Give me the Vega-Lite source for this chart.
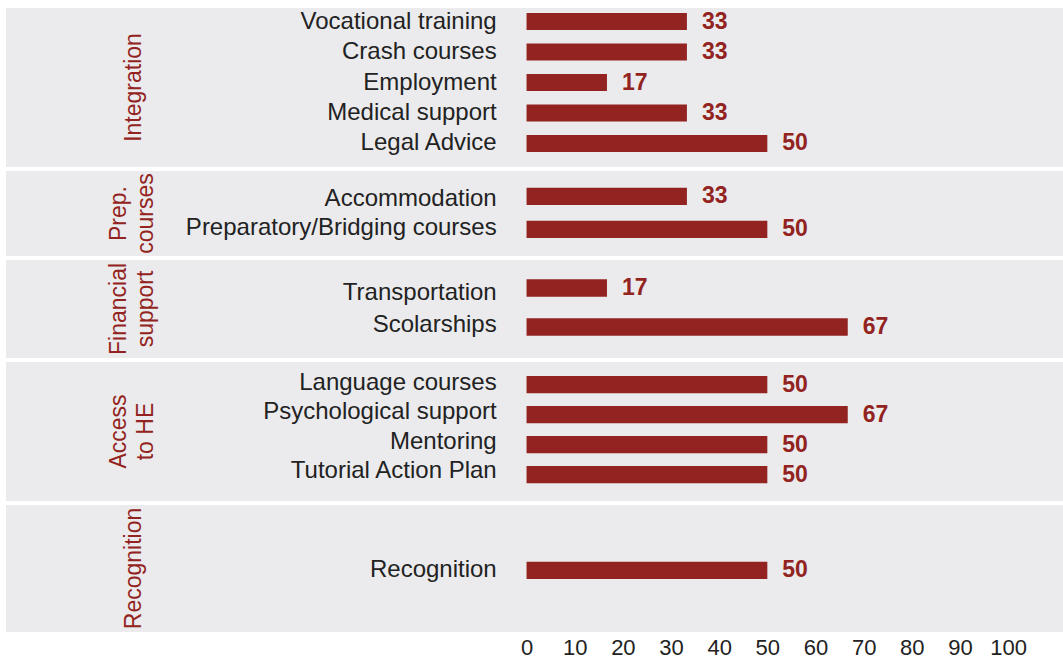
{
  "$schema": "https://vega.github.io/schema/vega-lite/v6.json",
  "padding": {"top": 8, "left": 6, "right": 0, "bottom": 0},
  "background": "white",
  "datasets": {
    "rows": [
      {"group": "Integration", "item": "Vocational training", "value": 33.3},
      {"group": "Integration", "item": "Crash courses", "value": 33.3},
      {"group": "Integration", "item": "Employment", "value": 16.7},
      {"group": "Integration", "item": "Medical support", "value": 33.3},
      {"group": "Integration", "item": "Legal Advice", "value": 50},
      {"group": "Prep. courses", "item": "Accommodation", "value": 33.3},
      {"group": "Prep. courses", "item": "Preparatory/Bridging courses", "value": 50},
      {"group": "Financial support", "item": "Transportation", "value": 16.7},
      {"group": "Financial support", "item": "Scolarships", "value": 66.7},
      {"group": "Access to HE", "item": "Language courses", "value": 50},
      {"group": "Access to HE", "item": "Psychological support", "value": 66.7},
      {"group": "Access to HE", "item": "Mentoring", "value": 50},
      {"group": "Access to HE", "item": "Tutorial Action Plan", "value": 50},
      {"group": "Recognition", "item": "Recognition", "value": 50}
    ],
    "groups": [
      {"group": "Integration", "label": "Integration"},
      {"group": "Prep. courses", "label": "Prep.\ncourses"},
      {"group": "Financial support", "label": "Financial\nsupport"},
      {"group": "Access to HE", "label": "Access\nto HE"},
      {"group": "Recognition", "label": "Recognition"}
    ]
  },
  "spacing": 4,
  "resolve": {"scale": {"x": "independent", "y": "independent"}},
  "vconcat": [
    {
      "width": 1057, "height": 159,
      "layer": [
        {"data": {"name": "rows"}, "transform": [{"filter": "datum.group === 'Integration'"}],
         "mark": {"type": "bar", "color": "#922320"},
         "encoding": {
           "y": {"field": "item", "type": "nominal", "sort": null, "axis": null, "scale": {"type": "band", "paddingInner": 0.44, "paddingOuter": 0.328, "align": 0.25}},
           "x": {"field": "value", "type": "quantitative", "axis": null, "scale": {"domain": [-108.1, 111.4], "nice": false, "zero": false}}}},
        {"data": {"name": "rows"}, "transform": [{"filter": "datum.group === 'Integration'"}],
         "mark": {"type": "text", "align": "left", "baseline": "middle", "dx": 15, "fontSize": 23, "fontWeight": "bold", "color": "#922320"},
         "encoding": {
           "y": {"field": "item", "type": "nominal", "sort": null, "axis": null},
           "x": {"field": "value", "type": "quantitative", "axis": null},
           "text": {"field": "value", "type": "quantitative", "format": ".0f"}}},
        {"data": {"name": "rows"}, "transform": [{"filter": "datum.group === 'Integration'"}],
         "mark": {"type": "text", "align": "right", "baseline": "middle", "fontSize": 24, "color": "#222222"},
         "encoding": {
           "y": {"field": "item", "type": "nominal", "sort": null, "axis": null},
           "x": {"datum": -6.2, "type": "quantitative", "axis": null},
           "text": {"field": "item", "type": "nominal"}}},
        {"data": {"name": "groups"}, "transform": [{"filter": "datum.group === 'Integration'"}],
         "mark": {"type": "text", "angle": 270, "align": "center", "baseline": "middle", "fontSize": 23, "color": "#922320", "lineBreak": "\n", "lineHeight": 27},
         "encoding": {
           "x": {"datum": -81.6, "type": "quantitative", "axis": null},
           "text": {"field": "label", "type": "nominal"}}}
      ]
    },
    {
      "width": 1057, "height": 85,
      "resolve": {"scale": {"y": "independent"}},
      "layer": [
        {"data": {"name": "rows"}, "transform": [{"filter": "datum.group === 'Prep. courses'"}],
         "mark": {"type": "bar", "color": "#922320"},
         "encoding": {
           "y": {"field": "item", "type": "nominal", "sort": null, "axis": null, "scale": {"type": "band", "paddingInner": 0.476, "paddingOuter": 0.526, "align": 0.48}},
           "x": {"field": "value", "type": "quantitative", "axis": null, "scale": {"domain": [-108.1, 111.4], "nice": false, "zero": false}}}},
        {"data": {"name": "rows"}, "transform": [{"filter": "datum.group === 'Prep. courses'"}],
         "mark": {"type": "text", "align": "left", "baseline": "middle", "dx": 15, "fontSize": 23, "fontWeight": "bold", "color": "#922320"},
         "encoding": {
           "y": {"field": "item", "type": "nominal", "sort": null, "axis": null, "scale": {"type": "band", "paddingInner": 0.476, "paddingOuter": 0.526, "align": 0.48}},
           "x": {"field": "value", "type": "quantitative", "axis": null},
           "text": {"field": "value", "type": "quantitative", "format": ".0f"}}},
        {"data": {"name": "rows"}, "transform": [{"filter": "datum.group === 'Prep. courses'"}],
         "mark": {"type": "text", "align": "right", "baseline": "middle", "fontSize": 24, "color": "#222222"},
         "encoding": {
           "y": {"field": "item", "type": "nominal", "sort": null, "axis": null, "scale": {"type": "point", "padding": 0.966, "align": 0.5}},
           "x": {"datum": -6.2, "type": "quantitative", "axis": null},
           "text": {"field": "item", "type": "nominal"}}},
        {"data": {"name": "groups"}, "transform": [{"filter": "datum.group === 'Prep. courses'"}],
         "mark": {"type": "text", "angle": 270, "align": "center", "baseline": "middle", "fontSize": 23, "color": "#922320", "lineBreak": "\n", "lineHeight": 27},
         "encoding": {
           "x": {"datum": -84.7, "type": "quantitative", "axis": null},
           "text": {"field": "label", "type": "nominal"}}}
      ]
    },
    {
      "width": 1057, "height": 98,
      "resolve": {"scale": {"y": "independent"}},
      "layer": [
        {"data": {"name": "rows"}, "transform": [{"filter": "datum.group === 'Financial support'"}],
         "mark": {"type": "bar", "color": "#922320"},
         "encoding": {
           "y": {"field": "item", "type": "nominal", "sort": null, "axis": null, "scale": {"type": "band", "paddingInner": 0.551, "paddingOuter": 0.532, "align": 0.465}},
           "x": {"field": "value", "type": "quantitative", "axis": null, "scale": {"domain": [-108.1, 111.4], "nice": false, "zero": false}}}},
        {"data": {"name": "rows"}, "transform": [{"filter": "datum.group === 'Financial support'"}],
         "mark": {"type": "text", "align": "left", "baseline": "middle", "dx": 15, "fontSize": 23, "fontWeight": "bold", "color": "#922320"},
         "encoding": {
           "y": {"field": "item", "type": "nominal", "sort": null, "axis": null, "scale": {"type": "band", "paddingInner": 0.551, "paddingOuter": 0.532, "align": 0.465}},
           "x": {"field": "value", "type": "quantitative", "axis": null},
           "text": {"field": "value", "type": "quantitative", "format": ".0f"}}},
        {"data": {"name": "rows"}, "transform": [{"filter": "datum.group === 'Financial support'"}],
         "mark": {"type": "text", "align": "right", "baseline": "middle", "fontSize": 24, "color": "#222222"},
         "encoding": {
           "y": {"field": "item", "type": "nominal", "sort": null, "axis": null, "scale": {"type": "point", "padding": 1.17, "align": 0.5}},
           "x": {"datum": -6.2, "type": "quantitative", "axis": null},
           "text": {"field": "item", "type": "nominal"}}},
        {"data": {"name": "groups"}, "transform": [{"filter": "datum.group === 'Financial support'"}],
         "mark": {"type": "text", "angle": 270, "align": "center", "baseline": "middle", "fontSize": 23, "color": "#922320", "lineBreak": "\n", "lineHeight": 27},
         "encoding": {
           "x": {"datum": -84.7, "type": "quantitative", "axis": null},
           "text": {"field": "label", "type": "nominal"}}}
      ]
    },
    {
      "width": 1057, "height": 139,
      "resolve": {"scale": {"y": "independent"}},
      "layer": [
        {"data": {"name": "rows"}, "transform": [{"filter": "datum.group === 'Access to HE'"}],
         "mark": {"type": "bar", "color": "#922320"},
         "encoding": {
           "y": {"field": "item", "type": "nominal", "sort": null, "axis": null, "scale": {"type": "band", "paddingInner": 0.424, "paddingOuter": 0.528, "align": 0.44}},
           "x": {"field": "value", "type": "quantitative", "axis": null, "scale": {"domain": [-108.1, 111.4], "nice": false, "zero": false}}}},
        {"data": {"name": "rows"}, "transform": [{"filter": "datum.group === 'Access to HE'"}],
         "mark": {"type": "text", "align": "left", "baseline": "middle", "dx": 15, "fontSize": 23, "fontWeight": "bold", "color": "#922320"},
         "encoding": {
           "y": {"field": "item", "type": "nominal", "sort": null, "axis": null, "scale": {"type": "band", "paddingInner": 0.424, "paddingOuter": 0.528, "align": 0.44}},
           "x": {"field": "value", "type": "quantitative", "axis": null},
           "text": {"field": "value", "type": "quantitative", "format": ".0f"}}},
        {"data": {"name": "rows"}, "transform": [{"filter": "datum.group === 'Access to HE'"}],
         "mark": {"type": "text", "align": "right", "baseline": "middle", "fontSize": 24, "color": "#222222"},
         "encoding": {
           "y": {"field": "item", "type": "nominal", "sort": null, "axis": null, "scale": {"type": "point", "padding": 0.872, "align": 0.41}},
           "x": {"datum": -6.2, "type": "quantitative", "axis": null},
           "text": {"field": "item", "type": "nominal"}}},
        {"data": {"name": "groups"}, "transform": [{"filter": "datum.group === 'Access to HE'"}],
         "mark": {"type": "text", "angle": 270, "align": "center", "baseline": "middle", "fontSize": 23, "color": "#922320", "lineBreak": "\n", "lineHeight": 27},
         "encoding": {
           "x": {"datum": -84.7, "type": "quantitative", "axis": null},
           "text": {"field": "label", "type": "nominal"}}}
      ]
    },
    {
      "width": 1057, "height": 127,
      "layer": [
        {"data": {"name": "rows"}, "transform": [{"filter": "datum.group === 'Recognition'"}],
         "mark": {"type": "bar", "color": "#922320"},
         "encoding": {
           "y": {"field": "item", "type": "nominal", "sort": null, "axis": null, "scale": {"type": "band", "paddingInner": 0.685, "paddingOuter": 1, "align": 0.517}},
           "x": {"field": "value", "type": "quantitative", "title": null, "axis": {"values": [0, 10, 20, 30, 40, 50, 60, 70, 80, 90, 100], "title": null}, "scale": {"domain": [-108.1, 111.4], "nice": false, "zero": false}}}},
        {"data": {"name": "rows"}, "transform": [{"filter": "datum.group === 'Recognition'"}],
         "mark": {"type": "text", "align": "left", "baseline": "middle", "dx": 15, "fontSize": 23, "fontWeight": "bold", "color": "#922320"},
         "encoding": {
           "y": {"field": "item", "type": "nominal", "sort": null, "axis": null},
           "x": {"field": "value", "type": "quantitative", "title": null, "axis": {"values": [0, 10, 20, 30, 40, 50, 60, 70, 80, 90, 100], "title": null}},
           "text": {"field": "value", "type": "quantitative", "format": ".0f"}}},
        {"data": {"name": "rows"}, "transform": [{"filter": "datum.group === 'Recognition'"}],
         "mark": {"type": "text", "align": "right", "baseline": "middle", "fontSize": 24, "color": "#222222"},
         "encoding": {
           "y": {"field": "item", "type": "nominal", "sort": null, "axis": null},
           "x": {"datum": -6.2, "type": "quantitative", "title": null, "axis": {"values": [0, 10, 20, 30, 40, 50, 60, 70, 80, 90, 100], "title": null}},
           "text": {"field": "item", "type": "nominal"}}},
        {"data": {"name": "groups"}, "transform": [{"filter": "datum.group === 'Recognition'"}],
         "mark": {"type": "text", "angle": 270, "align": "center", "baseline": "middle", "fontSize": 23, "color": "#922320", "lineBreak": "\n", "lineHeight": 27},
         "encoding": {
           "x": {"datum": -81.6, "type": "quantitative", "title": null, "axis": {"values": [0, 10, 20, 30, 40, 50, 60, 70, 80, 90, 100], "title": null}},
           "text": {"field": "label", "type": "nominal"}}}
      ]
    }
  ],
  "config": {
    "font": "Liberation Sans",
    "view": {"stroke": null, "fill": "#ebebed"},
    "text": {"font": "Liberation Sans"},
    "axis": {"domain": false, "ticks": false, "grid": false, "labelFont": "Liberation Sans", "labelFontSize": 22, "labelColor": "#222222", "labelPadding": 5, "labelDx": 3}
  }
}
